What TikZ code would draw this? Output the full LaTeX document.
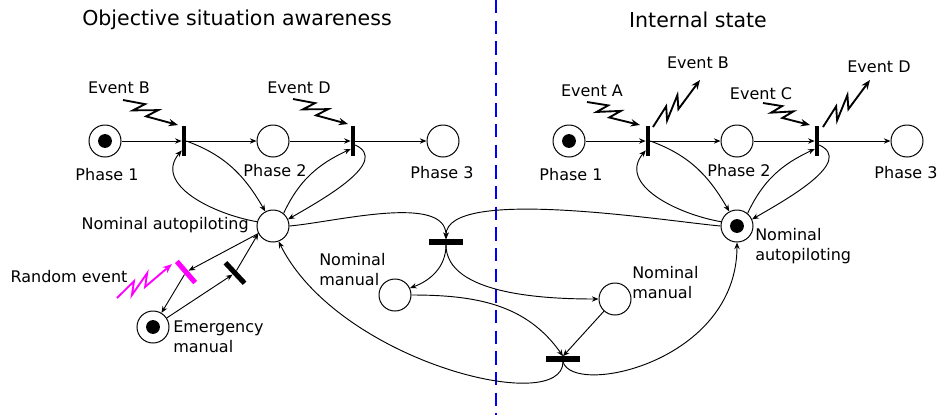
\documentclass[tikz,border=0pt]{standalone}
\usepackage{fontspec}
\setmainfont{DejaVu Sans}
\usetikzlibrary{arrows.meta,calc,positioning}
\definecolor{randpink}{RGB}{255,0,255}
\definecolor{divblue}{RGB}{0,0,255}

\tikzset{
  place/.style={circle,draw,line width=0.75pt,minimum size=24pt,inner sep=0pt},
  marked/.style={place,path picture={\fill[black] (path picture bounding box.center) circle (5.2pt);}},
  vtrans/.style={rectangle,fill=black,minimum width=3pt,minimum height=23pt,inner sep=0pt},
  htrans/.style={rectangle,fill=black,minimum width=26pt,minimum height=3.8pt,inner sep=0pt},
  ttrans/.style={rectangle,minimum width=3.8pt,minimum height=21pt,inner sep=0pt},
  flow/.style={line width=0.7pt,-{Stealth[length=5pt,width=4pt]}},
  lightning/.style={line width=1.4pt,-{Stealth[length=7pt,width=5.5pt]}},
  txt/.style={font=\fontsize{12}{15}\selectfont,inner sep=0pt,align=left},
  heading/.style={font=\fontsize{15.4}{18}\selectfont,inner sep=0pt},
}

% zigzag event arrow from #2 to #3
\newcommand{\eventflash}[3][black]{%
  \draw[lightning,#1] (#2) -- ($(#2)!0.36!(#3)!4pt!90:(#3)$)
    -- ($(#2)!0.22!(#3)!4pt!-90:(#3)$) -- ($(#2)!0.6!(#3)!4pt!90:(#3)$)
    -- ($(#2)!0.46!(#3)!4pt!-90:(#3)$) -- (#3);}

\begin{document}
\begin{tikzpicture}[x=0.75pt,y=0.75pt]
  \useasboundingbox (0,0) rectangle (940,-415);

  \node[heading] (headL) at (237,-20) {Objective situation awareness};
  \node[heading] (headR) at (698,-20) {Internal state};
  \coordinate (divtop) at (496,0);
  \coordinate (divbot) at (496,-415);
  \draw[divblue,line width=1.9pt,dash pattern=on 10pt off 5.5pt] (divtop) -- (divbot);

  % the two phase chains
  \foreach \side/\dx/\nast in {L/0/place,R/464/marked}{
    \node[marked] (p1\side) at (105+\dx,-141) {};
    \node[vtrans] (t1\side) at (184+\dx,-141) {};
    \node[place]  (p2\side) at (273+\dx,-141) {};
    \node[vtrans] (t2\side) at (353+\dx,-141) {};
    \node[place]  (p3\side) at (443+\dx,-141) {};
    \node[\nast]  (na\side) at (273+\dx,-226) {};
    \node[txt] (lp1\side) at (107+\dx,-175) {Phase 1};
    \node[txt] (lp2\side) at (275+\dx,-171) {Phase 2};
    \node[txt] (lp3\side) at (442+\dx,-173) {Phase 3};
    \draw[flow] (p1\side) -- (t1\side);
    \draw[flow] (t1\side) -- (p2\side);
    \draw[flow] (p2\side) -- (t2\side);
    \draw[flow] (t2\side) -- (p3\side);
    \draw[flow] (t1\side.east) to[out=-20,in=120] (na\side.118);
    \draw[flow] (na\side.165) to[out=170,in=-130,looseness=1.1] ([yshift=-7pt]t1\side.west);
    \draw[flow] (na\side.50) to[out=65,in=-155] ([yshift=-6pt]t2\side.west);
    \draw[flow] ([yshift=-3pt]t2\side.east) to[out=-25,in=30] (na\side.24);
  }

  % events
  \coordinate (evBa) at (123,-100);  \coordinate (evBb) at (178,-125);
  \coordinate (evDa) at (293,-99);   \coordinate (evDb) at (348,-124);
  \coordinate (evAa) at (587,-102);  \coordinate (evAb) at (640,-125);
  \coordinate (exBa) at (653,-127);  \coordinate (exBb) at (700,-80);
  \coordinate (evCa) at (763,-103);  \coordinate (evCb) at (810,-125);
  \coordinate (exDa) at (823,-127);  \coordinate (exDb) at (870,-80);
  \coordinate (evRa) at (117,-298);  \coordinate (evRb) at (172,-264);
  \eventflash{evBa}{evBb}
  \eventflash{evDa}{evDb}
  \eventflash{evAa}{evAb}
  \eventflash{exBa}{exBb}
  \eventflash{evCa}{evCb}
  \eventflash{exDa}{exDb}
  \eventflash[randpink]{evRa}{evRb}
  \node[txt] (levBL) at (119,-88) {Event B};
  \node[txt] (levDL) at (299,-88) {Event D};
  \node[txt] (levAR) at (592,-91) {Event A};
  \node[txt] (levBR) at (698,-63) {Event B};
  \node[txt] (levCR) at (761,-94) {Event C};
  \node[txt] (levDR) at (879,-67) {Event D};

  % emergency loop
  \node[ttrans,fill=randpink,rotate=41] (rL) at (186,-272) {};
  \node[ttrans,fill=black,rotate=43] (bL) at (235,-273) {};
  \node[marked] (emL) at (153,-327) {};
  \node[txt,anchor=east] (lnaL) at (249,-225) {Nominal autopiloting};
  \node[txt] (lrand) at (69,-277) {Random event};
  \node[txt,anchor=west] (lemL) at (173,-337) {Emergency\\manual};
  \draw[flow] (naL.207) -- (rL);
  \draw[flow] (rL) -- (emL);
  \draw[flow] (emL) -- (bL);
  \draw[flow] (bL) -- (naL.207);

  % manual hand-over
  \node[htrans] (t3) at (446,-242) {};
  \node[place] (nmL) at (395,-295) {};
  \node[place] (nmR) at (615,-299) {};
  \node[htrans] (t4) at (563,-359) {};
  \node[txt,anchor=west] (lnmL) at (319,-270) {Nominal\\manual};
  \node[txt,anchor=west] (lnmR) at (632,-283) {Nominal\\manual};
  \node[txt,anchor=west] (lnaR) at (755,-246) {Nominal\\autopiloting};
  \draw[flow] (naL.east) to[out=5,in=90,looseness=0.75] (t3.north);
  \draw[flow] (naR.west) to[out=175,in=90,looseness=0.5] (t3.north);
  \draw[flow] (t3.south) to[out=-90,in=20] (nmL.25);
  \draw[flow] (t3.south) to[out=-90,in=180,looseness=0.8] (nmR.west);
  \draw[flow] (nmL.east) to[out=0,in=125] (t4.north);
  \draw[flow] (nmR) -- (t4.north);
  \draw[flow] (t4.south) .. controls +(0,-55) and +(60,-120) .. (naL.-70);
  \draw[flow] (t4.south) .. controls +(10,-35) and +(0,-120) .. (naR.south);
\end{tikzpicture}
\end{document}
